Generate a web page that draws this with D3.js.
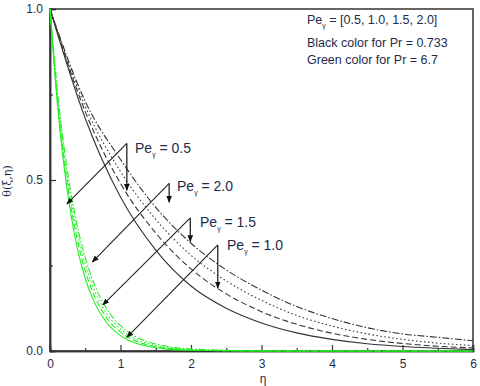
<!DOCTYPE html>
<html>
<head>
<meta charset="utf-8">
<script src="https://cdn.jsdelivr.net/npm/d3@7"></script>
<style>
  body { margin: 0; background: #fff; }
  svg { display: block; font-family: "Liberation Sans", Arial, sans-serif; }
</style>
</head>
<body>
<div id="chart"></div>
<script>
const width = 480,
  height = 386;

// eta grid for the Pr = 0.733 curves
const etaBlack = [0, 0.5, 1, 1.5, 2, 2.5, 3, 3.5, 4, 4.5, 5, 5.5, 6];
const blackPe05 = [1, 0.68, 0.45, 0.295, 0.19, 0.125, 0.082, 0.053, 0.034, 0.021, 0.013, 0.008, 0.004];
const blackPe10 = [1, 0.70, 0.49, 0.345, 0.24, 0.167, 0.115, 0.078, 0.052, 0.034, 0.022, 0.014, 0.009];
const blackPe15 = [1, 0.715, 0.525, 0.385, 0.28, 0.205, 0.148, 0.104, 0.073, 0.05, 0.034, 0.023, 0.016];
const blackPe20 = [1, 0.73, 0.56, 0.42, 0.315, 0.237, 0.178, 0.13, 0.095, 0.068, 0.05, 0.04, 0.03];

// eta grid for the Pr = 6.7 curves
const etaGreen = [0, 0.1, 0.2, 0.3, 0.4, 0.5, 0.6, 0.8, 1.0, 1.2, 1.4, 1.6, 2.0, 3, 6];
const greenPe05 = [1, 0.733, 0.538, 0.395, 0.289, 0.212, 0.156, 0.084, 0.045, 0.024, 0.013, 0.007, 0.002, 0, 0];
const greenPe10 = [1, 0.748, 0.560, 0.419, 0.313, 0.234, 0.176, 0.098, 0.055, 0.031, 0.017, 0.010, 0.003, 0, 0];
const greenPe15 = [1, 0.760, 0.577, 0.438, 0.333, 0.253, 0.192, 0.111, 0.064, 0.037, 0.021, 0.012, 0.004, 0, 0];
const greenPe20 = [1, 0.771, 0.595, 0.458, 0.353, 0.273, 0.210, 0.125, 0.074, 0.044, 0.026, 0.016, 0.006, 0.0005, 0];

const xTicks = [0, 1, 2, 3, 4, 5, 6];
const xMinor = [0.5, 1.5, 2.5, 3.5, 4.5, 5.5];
const yTicks = [0, 0.5, 1];
const yMinor = [0.25, 0.75];

const legendLines = ["Black color for Pr = 0.733", "Green color for Pr = 6.7"];

// annotation: label, apex [eta, theta], vertical arrow tip theta, diagonal arrow tip [eta, theta]
const notes = [
  { pe: "0.5", apex: [1.09, 0.607], down: 0.47, tip: [0.24, 0.43] },
  { pe: "2.0", apex: [1.69, 0.49], down: 0.435, tip: [0.60, 0.26] },
  { pe: "1.5", apex: [1.99, 0.389], down: 0.32, tip: [0.75, 0.135] },
  { pe: "1.0", apex: [2.38, 0.31], down: 0.184, tip: [1.09, 0.04] }
];
const labelPos = [[135, 153], [177, 191], [200, 227], [227, 250]];

const svg = d3.select("#chart")
  .append("svg")
  .attr("width", width)
  .attr("height", height);

const defs = svg.append("defs");
defs.append("marker")
  .attr("id", "head")
  .attr("viewBox", "0 0 10 10")
  .attr("refX", 9).attr("refY", 5)
  .attr("markerWidth", 7).attr("markerHeight", 7)
  .attr("markerUnits", "userSpaceOnUse")
  .attr("orient", "auto")
  .append("path")
  .attr("d", "M0,1 L10,5 L0,9 Z")
  .attr("fill", "#111");

const x = d3.scaleLinear().domain([0, 6]).range([50, 473]);
const y = d3.scaleLinear().domain([0, 1]).range([351, 9]);

const line = d3.line()
  .x(d => x(d[0]))
  .y(d => y(d[1]))
  .curve(d3.curveMonotoneX);

// frame
svg.append("rect")
  .attr("x", x(0)).attr("y", y(1))
  .attr("width", x(6) - x(0)).attr("height", y(0) - y(1))
  .attr("fill", "none")
  .attr("stroke", "#333")
  .attr("stroke-width", 1.5);

// axes
const tickColor = "#1d2c4c";
svg.append("g")
  .attr("transform", `translate(0,${y(0)})`)
  .call(d3.axisBottom(x).tickValues(xTicks).tickSize(-6).tickPadding(8).tickFormat(d3.format("d")));
svg.append("g")
  .attr("transform", `translate(0,${y(0)})`)
  .call(d3.axisBottom(x).tickValues(xMinor).tickSize(-3).tickFormat(""));
svg.append("g")
  .attr("transform", `translate(${x(0)},0)`)
  .call(d3.axisLeft(y).tickValues(yTicks).tickSize(-6).tickPadding(7).tickFormat(d3.format(".1f")));
svg.append("g")
  .attr("transform", `translate(${x(0)},0)`)
  .call(d3.axisLeft(y).tickValues(yMinor).tickSize(-3).tickFormat(""));

svg.selectAll(".domain").attr("stroke", "#333").attr("stroke-width", 1.5);
svg.selectAll(".tick line").attr("stroke", "#333").attr("stroke-width", 1.2);
svg.selectAll(".tick text")
  .attr("fill", tickColor)
  .style("font-size", "12px")
  .style("font-family", "Liberation Sans, Arial, sans-serif");

// axis titles
svg.append("text")
  .attr("x", 263).attr("y", 383)
  .attr("text-anchor", "middle")
  .attr("fill", tickColor)
  .style("font-size", "12px")
  .text("η");

svg.append("text")
  .attr("transform", "translate(11,181) rotate(-90)")
  .attr("text-anchor", "middle")
  .attr("fill", tickColor)
  .style("font-size", "11px")
  .style("font-family", "DejaVu Serif, serif")
  .text("θ(ξ,η)");

// curves
const dashes = [null, "6,3", "1.5,2.5", "7,2,1.5,2"];
const blackSeries = [blackPe05, blackPe10, blackPe15, blackPe20];
const greenSeries = [greenPe05, greenPe10, greenPe15, greenPe20];

blackSeries.forEach((vals, i) => {
  svg.append("path")
    .datum(etaBlack.map((e, j) => [e, vals[j]]))
    .attr("d", line)
    .attr("fill", "none")
    .attr("stroke", "#333")
    .attr("stroke-width", 1.1)
    .attr("stroke-dasharray", dashes[i]);
});

greenSeries.forEach((vals, i) => {
  svg.append("path")
    .datum(etaGreen.map((e, j) => [e, vals[j]]))
    .attr("d", line)
    .attr("fill", "none")
    .attr("stroke", "#22ee22")
    .attr("stroke-width", 1.1)
    .attr("stroke-dasharray", dashes[i]);
});

// annotations
const ann = svg.append("g");
notes.forEach((n, i) => {
  ann.append("line")
    .attr("x1", x(n.apex[0])).attr("y1", y(n.apex[1]))
    .attr("x2", x(n.apex[0])).attr("y2", y(n.down))
    .attr("stroke", "#111").attr("stroke-width", 1.2)
    .attr("marker-end", "url(#head)");
  ann.append("line")
    .attr("x1", x(n.apex[0])).attr("y1", y(n.apex[1]))
    .attr("x2", x(n.tip[0])).attr("y2", y(n.tip[1]))
    .attr("stroke", "#222").attr("stroke-width", 1.1)
    .attr("marker-end", "url(#head)");

  const t = ann.append("text")
    .attr("x", labelPos[i][0]).attr("y", labelPos[i][1])
    .attr("fill", "#1d2c4c")
    .style("font-size", "14px");
  t.append("tspan").text("Pe");
  t.append("tspan").attr("dy", 4).style("font-size", "7px").text("γ");
  t.append("tspan").attr("dy", -4).text(" = " + n.pe);
});

// legend text
const leg = svg.append("g").attr("fill", "#1d2c4c").style("font-size", "12.5px");
const first = leg.append("text").attr("x", 307).attr("y", 24);
first.append("tspan").text("Pe");
first.append("tspan").attr("dy", 4).style("font-size", "7px").text("γ");
first.append("tspan").attr("dy", -4).text(" = [0.5, 1.0, 1.5, 2.0]");
legendLines.forEach((s, i) => {
  leg.append("text")
    .attr("x", 307).attr("y", 47 + i * 17)
    .text(s);
});
</script>
</body>
</html>
